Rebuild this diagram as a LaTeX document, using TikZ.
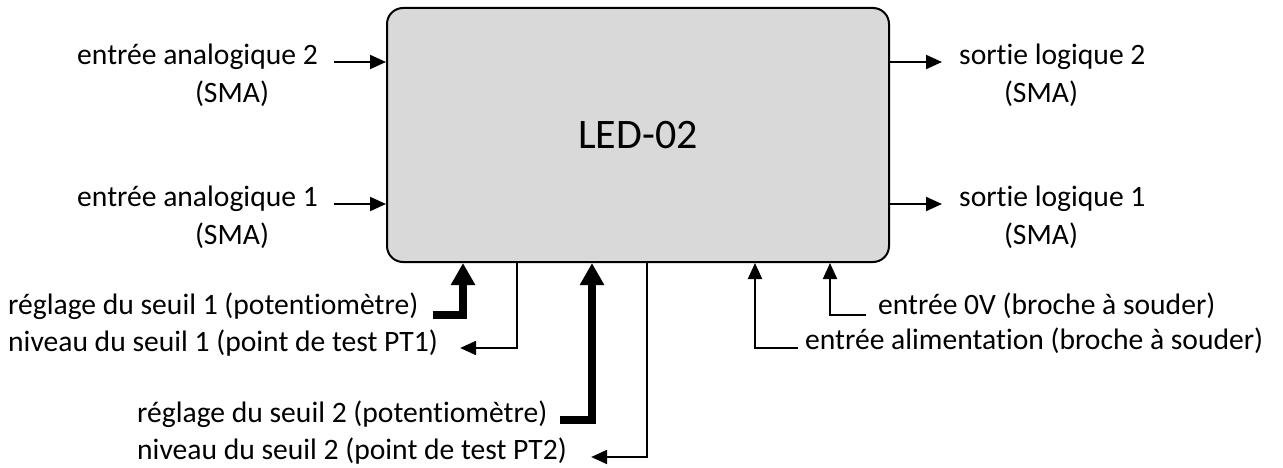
\documentclass[tikz,border=0pt]{standalone}
\usepackage{fontspec}
\setmainfont{Carlito}[Ligatures={NoCommon,NoContextual}]
\usetikzlibrary{arrows.meta}
\definecolor{boxgray}{HTML}{D9D9D9}
\tikzset{
  lbl/.style={inner sep=0pt, font=\fontsize{29.6}{37}\selectfont},
  block/.style={draw=black, line width=2pt, fill=boxgray, rounded corners=16pt,
    minimum width=502pt, minimum height=254pt, inner sep=0pt,
    font=\fontsize{42}{50}\selectfont},
  sig/.style={line width=2pt, -{Triangle[length=16pt,width=14pt]}},
  knob/.style={line width=7.5pt, -{Triangle[length=22pt,width=23pt]}},
}
\begin{document}
\begin{tikzpicture}[x=1pt, y=-1pt]
\useasboundingbox (0,0) rectangle (1283,468);

% central block
\node[block] (led) at (638,135) {LED-02};

% analog inputs (left)
\node[lbl, anchor=mid east] (in2) at (318,62) {entrée analogique 2};
\node[lbl, anchor=mid] (in2b) at (232,100) {(SMA)};
\node[lbl, anchor=mid east] (in1) at (318,204) {entrée analogique 1};
\node[lbl, anchor=mid] (in1b) at (232,242) {(SMA)};
\draw[sig] ([xshift=16pt]in2.mid east) -- (in2.mid east -| led.west);
\draw[sig] ([xshift=16pt]in1.mid east) -- (in1.mid east -| led.west);

% logic outputs (right)
\node[lbl, anchor=mid west] (out2) at (959,62) {sortie logique 2};
\node[lbl, anchor=mid] (out2b) at (1041,100) {(SMA)};
\node[lbl, anchor=mid west] (out1) at (959,204) {sortie logique 1};
\node[lbl, anchor=mid] (out1b) at (1041,242) {(SMA)};
\draw[sig] (out2.mid west -| led.east) -- ([xshift=-17pt]out2.mid west);
\draw[sig] (out1.mid west -| led.east) -- ([xshift=-17pt]out1.mid west);

% threshold 1: adjustment and test point
\node[lbl, anchor=mid west] (adj1) at (8,312) {réglage du seuil 1 (potentiomètre)};
\node[lbl, anchor=mid west] (tp1) at (8,349) {niveau du seuil 1 (point de test PT1)};
\coordinate (k1) at (463,315);
\coordinate (t1) at (517,348);
\draw[knob] ([xshift=14pt]adj1.mid east |- k1) -- (k1) -- (k1 |- led.south);
\draw[sig] (t1 |- led.south) -- (t1) -- ([xshift=22pt]tp1.mid east |- t1);

% threshold 2: adjustment and test point
\node[lbl, anchor=mid west] (adj2) at (137,420) {réglage du seuil 2 (potentiomètre)};
\node[lbl, anchor=mid west] (tp2) at (137,457) {niveau du seuil 2 (point de test PT2)};
\coordinate (k2) at (592,420);
\coordinate (t2) at (647,457);
\draw[knob] ([xshift=12pt]adj2.mid east |- k2) -- (k2) -- (k2 |- led.south);
\draw[sig] (t2 |- led.south) -- (t2) -- ([xshift=24pt]tp2.mid east |- t2);

% supply pins
\node[lbl, anchor=mid west] (gnd) at (878,312) {entrée 0V (broche à souder)};
\node[lbl, anchor=mid west] (pwr) at (805,347) {entrée alimentation (broche à souder)};
\coordinate (g1) at (830,315);
\coordinate (p1) at (755,348);
\draw[sig] ([xshift=-12pt]gnd.mid west |- g1) -- (g1) -- (g1 |- led.south);
\draw[sig] ([xshift=-7pt]pwr.mid west |- p1) -- (p1) -- (p1 |- led.south);
\end{tikzpicture}
\end{document}
